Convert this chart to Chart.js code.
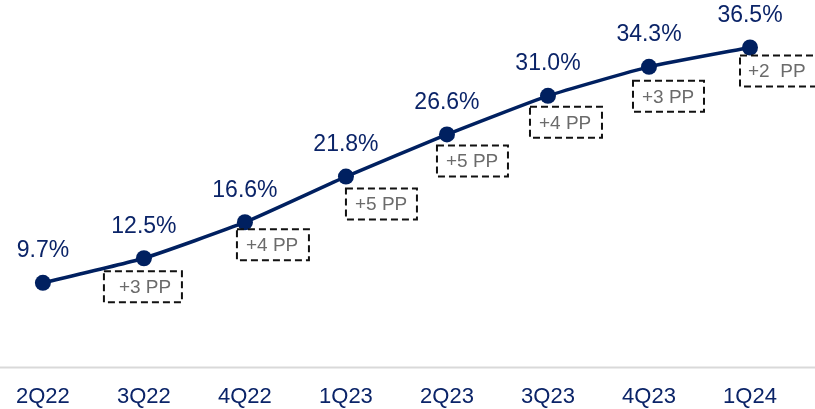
<!DOCTYPE html>
<html>
<head>
<meta charset="utf-8">
<script src="https://cdn.jsdelivr.net/npm/chart.js@4.4.1/dist/chart.umd.min.js"></script>
<style>
  html, body { margin: 0; padding: 0; background: #fff; }
  #wrap { width: 815px; height: 409px; position: relative; }
</style>
</head>
<body>
<div id="wrap"><canvas id="share-chart"></canvas></div>
<script>
const quarters = ['2Q22', '3Q22', '4Q22', '1Q23', '2Q23', '3Q23', '4Q23', '1Q24'];
const shareValues = [9.7, 12.5, 16.6, 21.8, 26.6, 31.0, 34.3, 36.5];
// quarter-on-quarter change, shown under each point from 3Q22 on
const changeLabels = ['+3 PP', '+4 PP', '+5 PP', '+5 PP', '+4 PP', '+3 PP', '+2  PP'];

const navy = '#0b2468';

// Function to draw the value labels and the dashed change boxes
const labelPlugin = {
    id: 'pointLabels',
    afterDatasetsDraw(chart, args, opts) {
        const ctx = chart.ctx;
        const meta = chart.getDatasetMeta(0);
        ctx.save();

        // values above each point
        ctx.fillStyle = navy;
        ctx.font = '23px "Liberation Sans", Arial, sans-serif';
        ctx.textAlign = 'center';
        ctx.textBaseline = 'middle';
        meta.data.forEach((pt, i) => {
            ctx.fillText(shareValues[i].toFixed(1) + '%', pt.x, pt.y - 32);
        });

        // dashed boxes with the change in percentage points
        ctx.font = '19px "Liberation Sans", Arial, sans-serif';
        changeLabels.forEach((text, i) => {
            const pt = meta.data[i + 1];
            const x = pt.x + opts.dx[i];
            const y = pt.y + opts.dy[i];
            const w = opts.w[i];
            const h = 31;
            ctx.setLineDash([7, 4]);
            ctx.lineWidth = 2;
            ctx.strokeStyle = '#111';
            ctx.strokeRect(x, y, w, h);
            ctx.setLineDash([]);
            ctx.fillStyle = '#6b6b6b';
            ctx.textAlign = 'left';
            ctx.fillText(text, x + opts.tx[i], y + h / 2 + 1);
        });
        ctx.restore();
    }
};

// thin grey base line across the full width at 0
const baseLinePlugin = {
    id: 'baseLine',
    beforeDatasetsDraw(chart) {
        const ctx = chart.ctx;
        const y = Math.round(chart.scales.y.getPixelForValue(0)) - 0.5;
        ctx.save();
        ctx.strokeStyle = '#d9d9d9';
        ctx.lineWidth = 2;
        ctx.beginPath();
        ctx.moveTo(0, y);
        ctx.lineTo(chart.width, y);
        ctx.stroke();
        ctx.restore();
    }
};

const ctx = document.getElementById('share-chart').getContext('2d');

new Chart(ctx, {
    type: 'line',
    data: {
        labels: quarters,
        datasets: [{
            data: shareValues,
            borderColor: '#002060',
            backgroundColor: '#002060',
            borderWidth: 3.5,
            pointRadius: 8,
            pointHoverRadius: 8,
            pointBackgroundColor: '#002060',
            pointBorderWidth: 0,
            tension: 0.15,
            clip: false
        }]
    },
    options: {
        responsive: true,
        maintainAspectRatio: false,
        animation: false,
        layout: {
            padding: { left: 40, right: 65, top: 0, bottom: 0 }
        },
        plugins: {
            legend: { display: false },
            tooltip: { enabled: false },
            pointLabels: {
                dx: [-40, -8, 0, -10, -18, -16, -10],
                dy: [13, 7, 12, 11, 11, 14, 8],
                w: [78, 72, 71, 71, 72, 71, 78],
                tx: [15, 9, 9, 9, 9, 9, 8]
            }
        },
        scales: {
            x: {
                offset: false,
                grid: { display: false, drawTicks: false },
                border: { display: false },
                ticks: {
                    color: navy,
                    font: { family: '"Liberation Sans", Arial, sans-serif', size: 22 },
                    padding: 16,
                    maxRotation: 0,
                    autoSkip: false
                },
                afterFit(scale) {
                    scale.height = 41;
                }
            },
            y: {
                display: false,
                min: 0,
                max: 41
            }
        }
    },
    plugins: [baseLinePlugin, labelPlugin]
});
</script>
</body>
</html>
